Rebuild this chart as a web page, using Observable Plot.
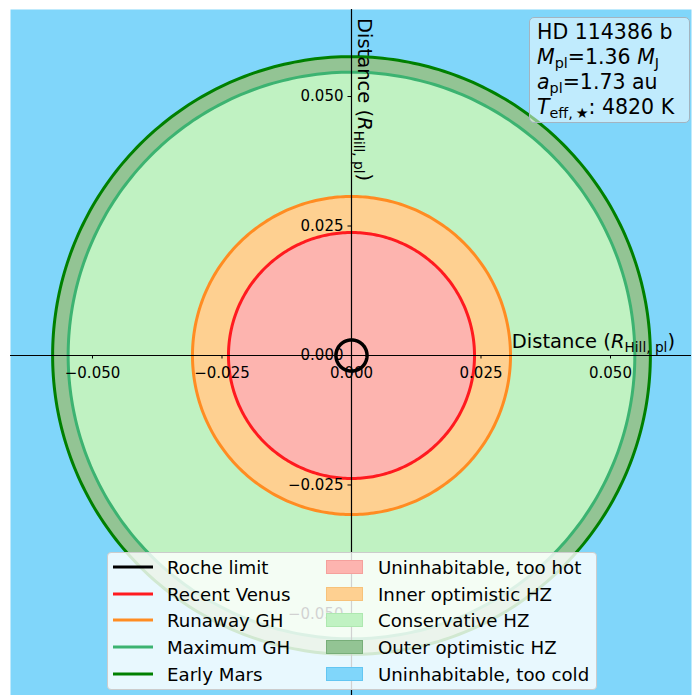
<!DOCTYPE html>
<html><head><meta charset="utf-8">
<script src="https://cdn.jsdelivr.net/npm/d3@7"></script>
<script src="https://cdn.jsdelivr.net/npm/@observablehq/plot@0.6"></script>
<style>
body{margin:0;background:white;font-family:"DejaVu Sans",sans-serif;}
#wrap{position:relative;width:697px;height:695px;overflow:hidden;}
#wrap svg{position:absolute;left:0;top:0;}
#info{position:absolute;left:529px;top:17px;width:161px;height:106px;box-sizing:border-box;border:1px solid #a3b4c0;border-radius:5px;background:rgba(255,255,255,0.5);font-size:20.5px;line-height:25px;padding:2px 0 0 7px;color:#000;white-space:nowrap;}
#info sub{font-size:0.7em;vertical-align:-0.28em;line-height:0;}
#legend{position:absolute;left:107px;top:552px;width:490px;height:138px;box-sizing:border-box;border:1px solid #cccccc;border-radius:4px;background:rgba(255,255,255,0.82);font-size:18.2px;color:#000;}
.row{position:absolute;left:0;height:26.75px;width:100%;}
.row span{position:absolute;top:50%;transform:translateY(-50%);white-space:nowrap;}
.hl{height:3px;width:40px;}
.pt{height:14px;width:37px;box-sizing:border-box;}
</style></head><body><div id="wrap"></div>
<script>
// Boundaries (distance in Hill radii)
const boundaryNames = ["Roche limit", "Recent Venus", "Runaway GH", "Maximum GH", "Early Mars"];
const boundaryRadii = [0.0030, 0.02375, 0.0307, 0.0547, 0.0577];
const boundaryColors = ["#000000", "#ff1a1f", "#ff8c22", "#3cb371", "#008000"];
const boundaryWidths = [3.5, 3, 3, 3, 3];
// Regions (fill colours)
const regionNames = ["Uninhabitable, too hot", "Inner optimistic HZ", "Conservative HZ", "Outer optimistic HZ", "Uninhabitable, too cold"];
const regionColors = ["#fdb4af", "#fed091", "#c0f2c2", "#93c494", "#80d6fa"];
const regionEdges = ["#f5a09c", "#f7c27a", "#aee8b0", "#78ae79", "#63c6f2"];
// Ticks
const tickValues = [-0.050, -0.025, 0.000, 0.025, 0.050];
// Planet info
const planetName = "HD 114386 b";
const planetMass = "1.36";
const planetA = "1.73";
const starTeff = "4820";

const angles = d3.range(0, 361, 1);
function circlePts(name, r) {
  return angles.map(a => ({name, x: r * Math.cos(a * Math.PI / 180), y: r * Math.sin(a * Math.PI / 180)}));
}
// disks from outside in: Early Mars -> outer opt, Max GH -> conservative, Runaway -> inner opt, Venus -> too hot
const diskSpec = [[4, 3], [3, 2], [2, 1], [1, 0]];
const fmt = d3.format(".3f");

const marks = [Plot.frame({fill: regionColors[4], stroke: "none"})];
for (const [bi, ri] of diskSpec) {
  marks.push(Plot.line(circlePts(boundaryNames[bi], boundaryRadii[bi]), {x: "x", y: "y", fill: regionColors[ri], stroke: "none"}));
}
for (let i = boundaryNames.length - 1; i >= 1; i--) {
  marks.push(Plot.line(circlePts(boundaryNames[i], boundaryRadii[i]), {x: "x", y: "y", stroke: boundaryColors[i], strokeWidth: boundaryWidths[i]}));
}
marks.push(Plot.ruleY([0], {stroke: "black", strokeWidth: 1.2}));
marks.push(Plot.ruleX([0], {stroke: "black", strokeWidth: 1.2}));
marks.push(Plot.line(circlePts(boundaryNames[0], boundaryRadii[0]), {x: "x", y: "y", stroke: boundaryColors[0], strokeWidth: boundaryWidths[0]}));
// tick marks
marks.push(Plot.ruleX(tickValues, {x: d => d, y1: 0, y2: 0, insetBottom: -3.5, stroke: "black", strokeWidth: 1}));
marks.push(Plot.ruleY(tickValues, {y: d => d, x1: 0, x2: 0, insetLeft: -3.5, stroke: "black", strokeWidth: 1}));
// tick labels
marks.push(Plot.text(tickValues, {x: d => d, y: 0, text: d => fmt(d), dy: 18, lineAnchor: "middle", fontSize: 15, fill: "black"}));
marks.push(Plot.text(tickValues, {x: 0, y: d => d, text: d => fmt(d), dx: -8, textAnchor: "end", lineAnchor: "middle", fontSize: 15, fill: "black"}));

const chart = Plot.plot({
  width: 697, height: 695,
  marginLeft: 10, marginRight: 6, marginTop: 9, marginBottom: 0,
  x: {domain: [-0.06583, 0.06564], axis: null},
  y: {domain: [-0.06564, 0.06680], axis: null},
  style: {fontFamily: "DejaVu Sans", fontSize: "15px", background: "white", overflow: "visible"},
  marks
});
const wrap = document.getElementById("wrap");
wrap.appendChild(chart);

// axis labels
const svg = d3.select(chart);
function axisLabel(g) {
  const t = g.append("text").attr("font-family", "DejaVu Sans").attr("font-size", 19.5).attr("fill", "black");
  t.append("tspan").text("Distance (");
  t.append("tspan").attr("font-style", "italic").text("R");
  t.append("tspan").attr("font-size", 13.7).attr("dy", 4).text("Hill, pl");
  t.append("tspan").attr("dy", -4).text(")");
  return t;
}
axisLabel(svg.append("g").attr("transform", "translate(675,348)")).attr("text-anchor", "end");
axisLabel(svg.append("g").attr("transform", "translate(357.5,18) rotate(90)")).attr("text-anchor", "start");

// info box
const info = document.createElement("div");
info.id = "info";
info.innerHTML = `${planetName}<br><i>M</i><sub>pl</sub>=${planetMass} <i>M</i><sub>J</sub><br><i>a</i><sub>pl</sub>=${planetA} au<br><i>T</i><sub>eff,&thinsp;★</sub>: ${starTeff} K`;
wrap.appendChild(info);

// legend
const legend = d3.select(wrap).append("div").attr("id", "legend");
for (let i = 0; i < 5; i++) {
  const row = legend.append("div").attr("class", "row").style("top", (0.6 + i * 26.75) + "px");
  row.append("span").attr("class", "hl").style("left", "5px").style("background", boundaryColors[i]);
  row.append("span").style("left", "59px").text(boundaryNames[i]);
  row.append("span").attr("class", "pt").style("left", "218px").style("background", regionColors[i]).style("border", "1px solid " + regionEdges[i]);
  row.append("span").style("left", "270px").text(regionNames[i]);
}
</script></body></html>
